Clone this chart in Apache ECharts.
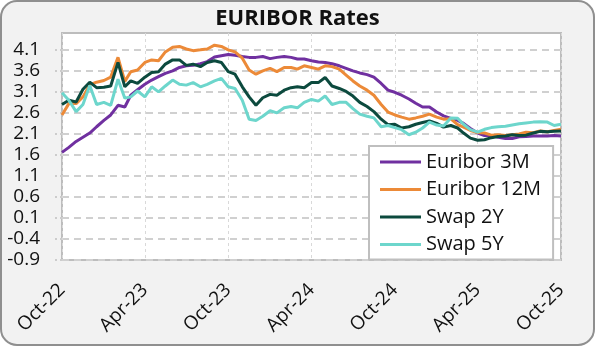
<!DOCTYPE html>
<html><head><meta charset="utf-8">
<script src="https://cdn.jsdelivr.net/npm/echarts@6/dist/echarts.min.js"></script>
<style>
html,body{margin:0;padding:0;background:#fff;}
#chart{position:absolute;left:0;top:0;width:595px;height:346px;}
</style></head><body>
<div id="chart"></div>
<script>
const dates = [
 '2022-10-01','2022-10-16','2022-11-01','2022-11-16','2022-12-01','2022-12-16',
 '2023-01-01','2023-01-16','2023-02-01','2023-02-16','2023-03-01','2023-03-16','2023-04-01','2023-04-16','2023-05-01','2023-05-16','2023-06-01','2023-06-16',
 '2023-07-01','2023-07-16','2023-08-01','2023-08-16','2023-09-01','2023-09-16','2023-10-01','2023-10-16','2023-11-01','2023-11-16','2023-12-01','2023-12-16',
 '2024-01-01','2024-01-16','2024-02-01','2024-02-16','2024-03-01','2024-03-16','2024-04-01','2024-04-16','2024-05-01','2024-05-16','2024-06-01','2024-06-16',
 '2024-07-01','2024-07-16','2024-08-01','2024-08-16','2024-09-01','2024-09-16','2024-10-01','2024-10-16','2024-11-01','2024-11-16','2024-12-01','2024-12-16',
 '2025-01-01','2025-01-16','2025-02-01','2025-02-16','2025-03-01','2025-03-16','2025-04-01','2025-04-16','2025-05-01','2025-05-16','2025-06-01','2025-06-16',
 '2025-07-01','2025-07-16','2025-08-01','2025-08-16','2025-09-01','2025-09-16','2025-10-01'
];
const euribor3M = [
 1.66,1.78,1.92,2.02,2.12,2.27,
 2.42,2.55,2.78,2.74,3.02,3.15,3.28,3.38,3.46,3.54,3.60,3.68,3.72,3.73,3.77,3.82,3.93,3.96,3.99,3.97,3.94,3.92,3.92,3.94,
 3.89,3.92,3.94,3.92,3.88,3.88,3.84,3.81,3.80,3.77,3.72,3.66,3.60,3.55,3.51,3.45,3.30,3.14,3.09,3.02,2.93,2.83,2.74,2.74,
 2.62,2.53,2.47,2.42,2.35,2.23,2.12,2.06,2.06,2.02,1.99,1.99,2.03,2.04,2.05,2.05,2.05,2.06,
 2.05
];
const euribor12M = [
 2.55,2.82,2.82,2.98,3.27,3.33,
 3.37,3.45,3.92,3.35,3.58,3.62,3.80,3.86,3.84,4.05,4.16,4.18,4.12,4.08,4.10,4.12,4.21,4.18,4.10,4.05,3.90,3.62,3.52,3.60,
 3.66,3.58,3.68,3.68,3.64,3.72,3.68,3.64,3.72,3.70,3.64,3.50,3.36,3.24,3.14,3.02,2.80,2.62,2.55,2.50,2.45,2.48,2.52,2.57,
 2.50,2.45,2.46,2.32,2.26,2.18,2.13,2.12,2.07,2.08,2.06,2.08,2.10,2.14,2.13,2.17,2.15,2.18,
 2.21
];
const swap2Y = [
 2.80,2.90,2.86,3.16,3.33,3.20,
 3.21,3.24,3.80,3.22,3.36,3.30,3.45,3.56,3.58,3.76,3.86,3.86,3.73,3.76,3.70,3.80,3.84,3.80,3.58,3.52,3.22,2.98,2.78,2.96,
 3.04,3.02,3.14,3.20,3.22,3.20,3.32,3.32,3.44,3.24,3.18,3.11,3.00,2.85,2.75,2.63,2.45,2.32,2.33,2.24,2.27,2.33,2.37,2.41,
 2.35,2.26,2.30,2.24,2.12,2.00,1.95,1.96,2.01,2.04,2.05,2.08,2.06,2.07,2.12,2.16,2.15,2.16,
 2.17
];
const swap5Y = [
 3.08,2.90,2.63,2.80,3.25,2.80,
 2.85,2.78,3.40,2.95,2.98,3.12,2.98,3.22,3.10,3.24,3.38,3.28,3.26,3.32,3.22,3.28,3.36,3.42,3.22,3.18,2.90,2.45,2.42,2.52,
 2.65,2.60,2.72,2.75,2.72,2.85,2.92,2.88,3.00,2.80,2.85,2.85,2.70,2.57,2.52,2.48,2.27,2.30,2.25,2.20,2.08,2.14,2.24,2.38,
 2.31,2.29,2.48,2.47,2.33,2.20,2.14,2.21,2.25,2.27,2.28,2.31,2.34,2.36,2.38,2.39,2.38,2.30,
 2.33
];
const seriesNames = ['Euribor 3M','Euribor 12M','Swap 2Y','Swap 5Y'];
const seriesColors = ['#7030a0','#ec8a38','#0c4a3e','#6dd6cc'];
const yTicks = [-0.9,-0.4,0.1,0.6,1.1,1.6,2.1,2.6,3.1,3.6,4.1];
const xTickDates = ['2022-10-01','2023-04-01','2023-10-01','2024-04-01','2024-10-01','2025-04-01','2025-10-01'];
const xTickLabels = ['Oct-22','Apr-23','Oct-23','Apr-24','Oct-24','Apr-25','Oct-25'];

const toTime = s => new Date(s + 'T00:00:00').getTime();
const xTickTimes = xTickDates.map(toTime);
const allSeries = [euribor3M, euribor12M, swap2Y, swap5Y];
const FONT = "'Open Sans', 'Noto Sans', sans-serif";

const chart = echarts.init(document.getElementById('chart'), null, {renderer:'canvas'});
chart.setOption({
  animation:false,
  graphic:[{type:'rect', z:-100, silent:true,
    shape:{x:1,y:1,width:593,height:344,r:16},
    style:{fill:'#f2f2f2', stroke:'#8f8f8f', lineWidth:2}}],
  title:{text:'EURIBOR Rates', left:'center', top:3,
    textStyle:{fontFamily:FONT, fontWeight:'bold', fontSize:22, color:'#111'}},
  grid:{left:62, right:34, top:33, bottom:86, show:true, backgroundColor:'#fff',
    borderColor:'#bdbdbd', borderWidth:2, containLabel:false, outerBoundsMode:'none'},
  legend:{orient:'vertical', left:369, top:146, padding:[6,12,5,11], itemGap:7.5,
    itemWidth:41, itemHeight:3, icon:'rect', backgroundColor:'#fff',
    borderColor:'#bfbfbf', borderWidth:2,
    textStyle:{fontFamily:FONT, fontSize:20, color:'#111'}, data:seriesNames},
  xAxis:{type:'value', min:xTickTimes[0], max:xTickTimes[xTickTimes.length-1],
    axisLine:{show:false}, axisTick:{show:false, customValues:xTickTimes},
    axisLabel:{customValues:xTickTimes, rotate:45, margin:27, fontFamily:FONT, fontSize:19, color:'#111',
      formatter:v => { const i = xTickTimes.indexOf(v); return i >= 0 ? xTickLabels[i] : ''; }},
    splitLine:{show:true, lineStyle:{color:'#d9d9d9', width:1, type:[3,3]}}},
  yAxis:{type:'value', min:-0.9, max:4.5,
    axisLine:{show:false},
    axisTick:{show:true, length:8, customValues:yTicks, lineStyle:{color:'#cccccc', width:2, type:[2,3]}},
    axisLabel:{customValues:yTicks, margin:22, fontFamily:FONT, fontSize:19, color:'#111',
      formatter:v => Number(v).toFixed(1)},
    splitLine:{show:true, lineStyle:{color:'#d0d0d0', width:2, type:[7,5]}}},
  series: allSeries.map((arr, k) => ({
    name:seriesNames[k], type:'line', showSymbol:false, symbol:'none',
    color:seriesColors[k], lineStyle:{width:3, color:seriesColors[k]},
    data: dates.map((d, i) => [toTime(d), arr[i]])
  }))
});
</script>
</body></html>
